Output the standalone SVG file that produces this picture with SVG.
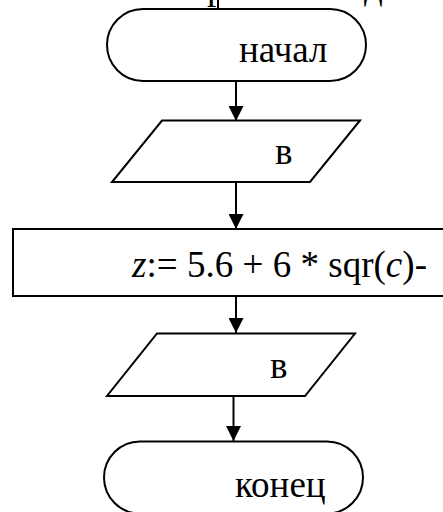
<svg xmlns="http://www.w3.org/2000/svg" width="443" height="512" viewBox="0 0 443 512">
<defs>
<style>
.s{fill:#fff;stroke:#000;stroke-width:2}
.t{font-family:'Liberation Serif','Times New Roman',serif;font-size:37px;fill:#000}
.c{stroke:#000;stroke-width:2;fill:none}
</style>
<marker id="ah" markerWidth="16" markerHeight="15" refX="15" refY="7.5" orient="auto" markerUnits="userSpaceOnUse">
<path d="M0,0 L15,7.5 L0,15 Z" fill="#000"/>
</marker>
</defs>
<rect width="443" height="512" fill="#fff"/>
<g id="clipped-text">
<text class="t" x="207" y="-1">р</text>
<text class="t" x="364" y="-1">д</text>
</g>
<g id="connectors">
<line class="c" x1="218" y1="0" x2="218" y2="9"/>
<line class="c" x1="236" y1="81" x2="236" y2="121" marker-end="url(#ah)"/>
<line class="c" x1="236" y1="182" x2="236" y2="229" marker-end="url(#ah)"/>
<line class="c" x1="236" y1="296" x2="236" y2="333" marker-end="url(#ah)"/>
<line class="c" x1="233.5" y1="396" x2="233.5" y2="441" marker-end="url(#ah)"/>
</g>
<g id="start">
<rect class="s" x="107" y="9" width="259" height="72" rx="36" ry="36"/>
<text class="t" x="239" y="62">начал</text>
</g>
<g id="input">
<polygon class="s" points="162,120.5 360,120.5 310,182 112,182"/>
<text class="t" x="275" y="164">в</text>
</g>
<g id="process">
<rect class="s" x="13" y="229" width="440" height="67"/>
<text class="t" x="132" y="277" textLength="295" lengthAdjust="spacing"><tspan font-style="italic">z</tspan>:= 5.6 + 6 * sqr(<tspan font-style="italic">c</tspan>)-</text>
</g>
<g id="output">
<polygon class="s" points="157,333.5 355,333.5 305,396 107,396"/>
<text class="t" x="270" y="378">в</text>
</g>
<g id="end">
<rect class="s" x="104" y="441.5" width="259" height="72" rx="36" ry="36"/>
<text class="t" x="235" y="497">конец</text>
</g>
</svg>
